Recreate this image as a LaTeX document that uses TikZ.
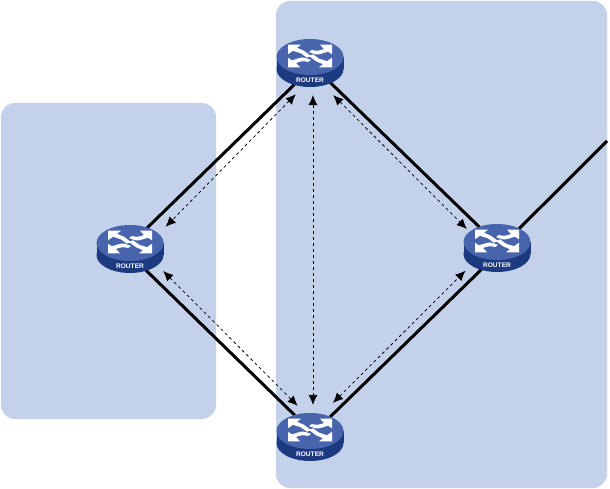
\documentclass[tikz,border=0pt]{standalone}
\usepackage{fontspec}
\setsansfont{Liberation Sans}
\usetikzlibrary{arrows.meta,shapes.geometric}
\definecolor{zonefill}{RGB}{195,209,234}
\definecolor{routertop}{RGB}{72,100,172}
\definecolor{routerband}{RGB}{28,58,128}
\tikzset{
  zone/.style={fill=zonefill,rounded corners=14pt},
  routernode/.style={ellipse,inner sep=0pt,minimum width=68pt,minimum height=48pt},
  trunk/.style={line width=3pt,black},
  peer/.style={line width=0.75pt,dash pattern=on 3pt off 3pt,{Latex[length=10pt,width=9pt]}-{Latex[length=10pt,width=9pt]}},
  router/.pic={
    \fill[routerband] (0,6) ellipse (33.5pt and 18pt);
    \fill[routerband] (-33.5,-6) rectangle (33.5,6);
    \fill[routertop] (0,-6) ellipse (33.5pt and 18pt);
    % four white arrows of the glyph
    \foreach \sx/\sy in {1/1,-1/-1} {
      \begin{scope}[shift={(0,-7)},xscale=\sx,yscale=0.87*\sy]
        \fill[white] (-22,-13) -- (-9,-13) -- (-13,-9.5) -- (-6,-6) -- (1,0) -- (-3,2) -- (-9,-3) -- (-17,-6) -- (-22,-2) -- cycle;
        \fill[white] (22,-13) -- (22,-2) -- (18,-5) -- (11,-2.5) .. controls (7,-1) and (5,-2) .. (-1,-4.5) -- (2,-7) .. controls (6,-5.5) and (8,-5.5) .. (14,-8) -- (10,-13) -- cycle;
      \end{scope}
    }
    \node[white,font=\fontsize{6.6}{6.6}\sffamily\bfseries,inner sep=0pt] at (0,17) {ROUTER};
  }
}
\begin{document}
\begin{tikzpicture}[x=1pt,y=-1pt]
  \useasboundingbox (0,0) rectangle (610,489);

  % zones
  \fill[zone] (1,103) rectangle (216,419);
  \fill[zone] (276,1) rectangle (607,488);

  % routers
  \node[routernode] (top) at (310,63) {};
  \node[routernode] (left) at (130,249) {};
  \node[routernode] (right) at (497,248) {};
  \node[routernode] (bottom) at (310,437) {};
  \coordinate (uplink) at (607,141);

  % links
  \draw[trunk] (top.234) -- (left.51);
  \draw[trunk] (top.-44) -- (right.130);
  \draw[trunk] (left.-53) -- (bottom.125);
  \draw[trunk] (bottom.45) -- (right.234);
  \draw[trunk] (right.41) -- (uplink);

  % sessions
  \draw[peer,shorten <=10.6pt,shorten >=11.3pt] (top.254) -- (left.27);
  \draw[peer,shorten <=14pt,shorten >=5.2pt] (top.-59) -- (right.150);
  \draw[peer,shorten <=8pt,shorten >=8pt] (top.-83) -- (bottom.83);
  \draw[peer,shorten <=9.5pt,shorten >=10.3pt] (left.-30) -- (bottom.102);
  \draw[peer,shorten <=16pt,shorten >=9pt] (bottom.63) -- (right.213);

  % router icons on top
  \foreach \r in {top,left,right,bottom}
    \pic at (\r) {router};
\end{tikzpicture}
\end{document}
